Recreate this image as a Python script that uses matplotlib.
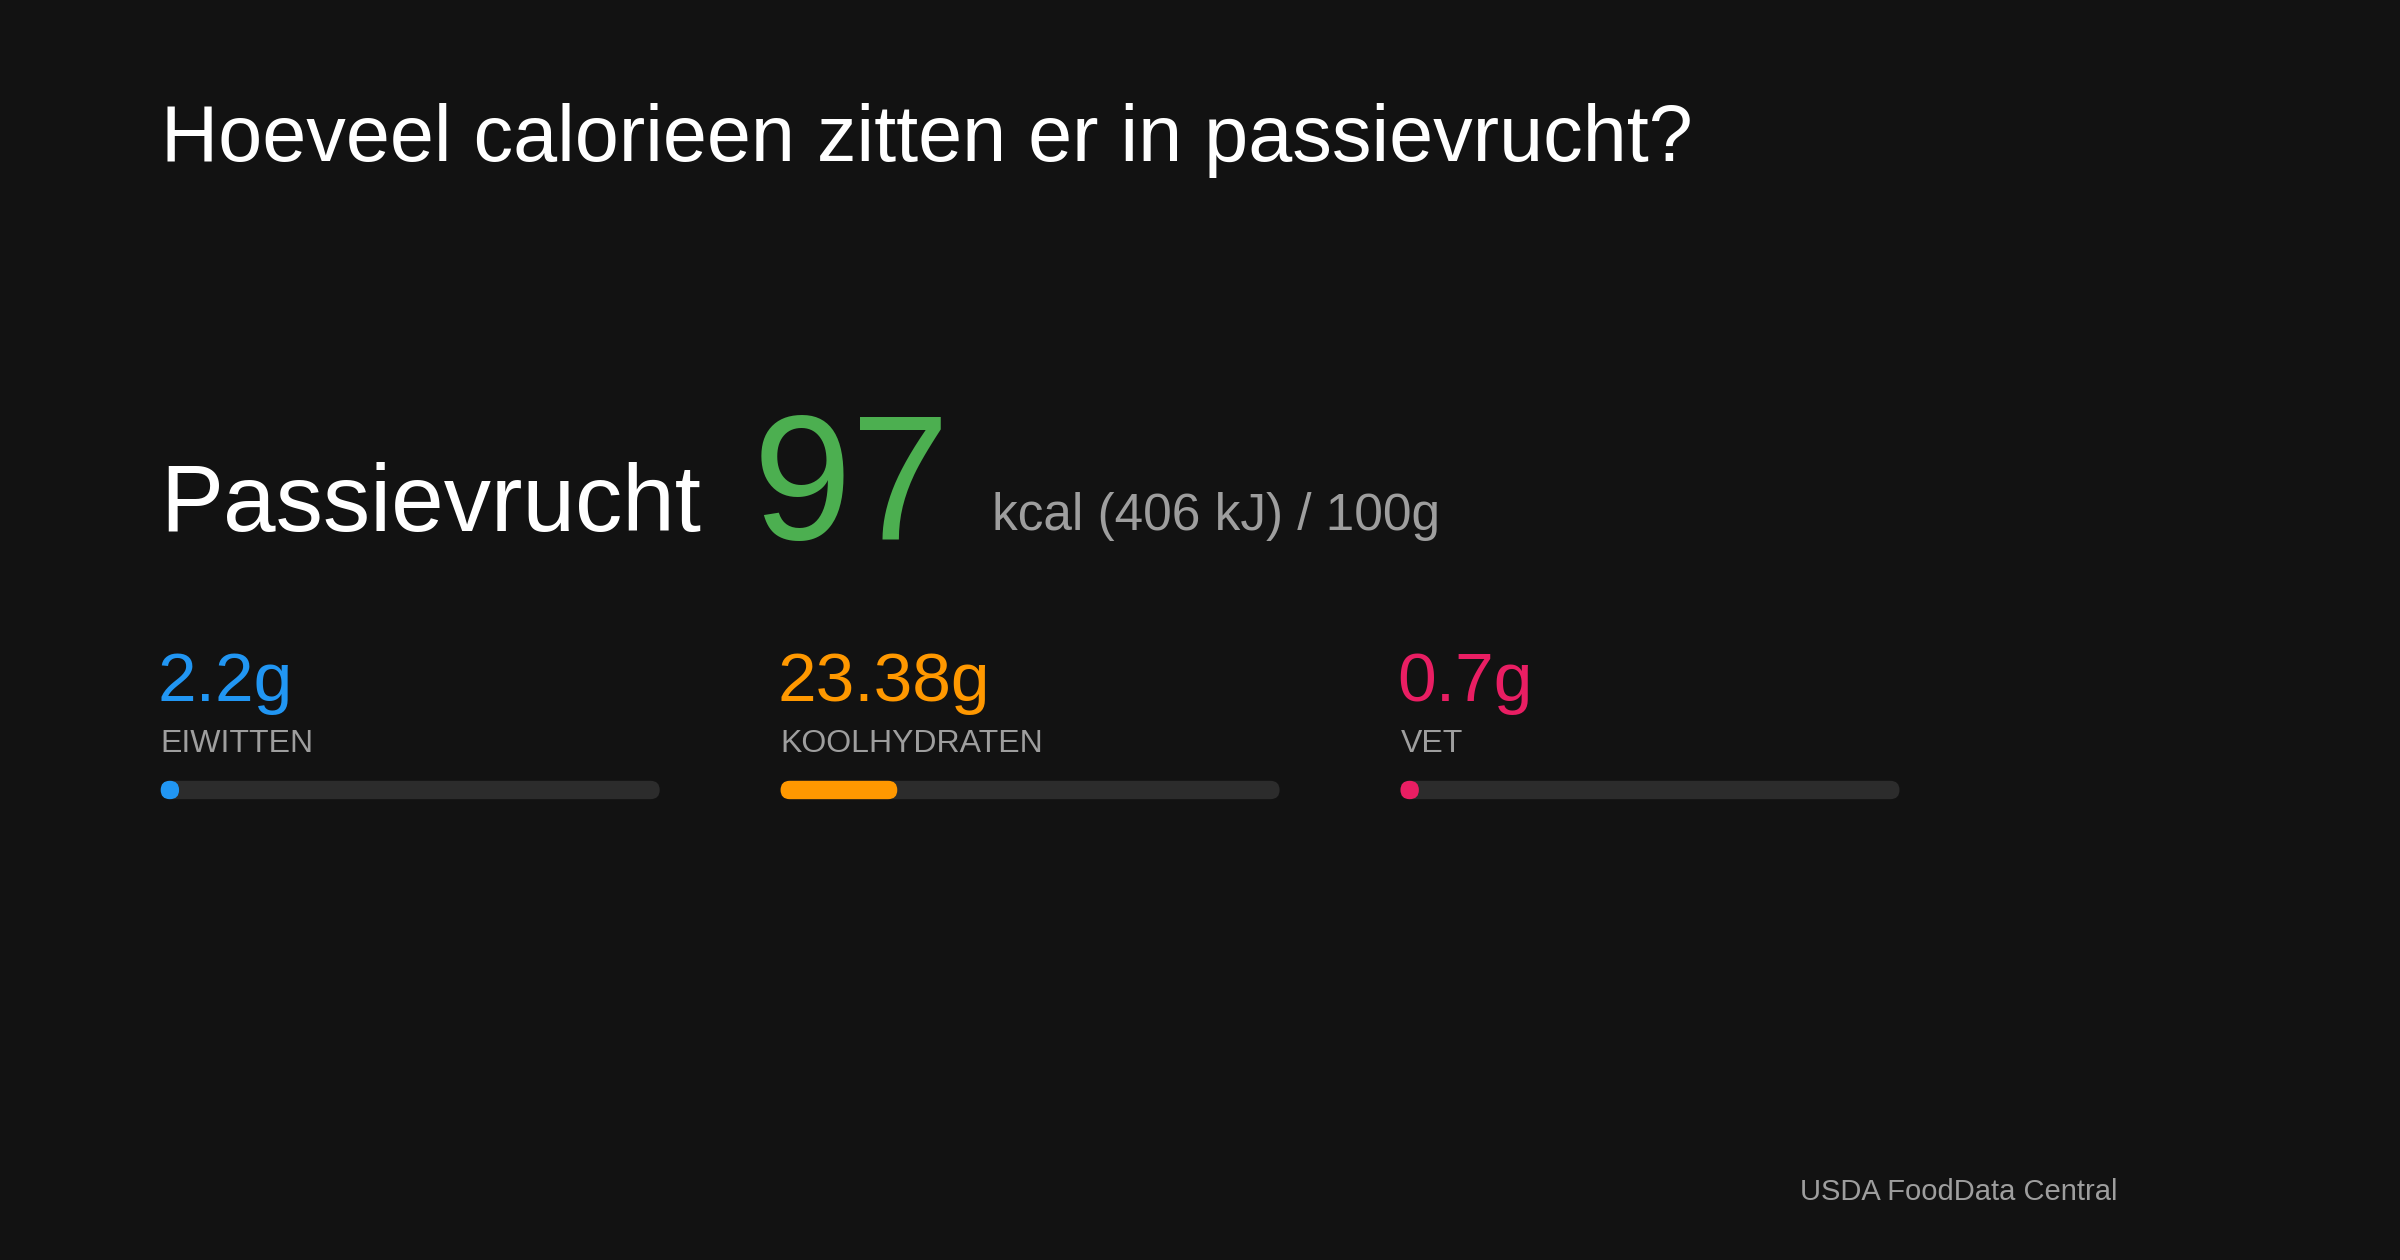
import matplotlib.pyplot as plt
from matplotlib.patches import FancyBboxPatch

plt.rcParams['font.family'] = ['Liberation Sans', 'DejaVu Sans']

title = "Hoeveel calorieen zitten er in passievrucht?"
food = "Passievrucht"
kcal = 97
kj = 406
macro_names = ["EIWITTEN", "KOOLHYDRATEN", "VET"]
macro_values = [2.2, 23.38, 0.7]
macro_labels = ["2.2g", "23.38g", "0.7g"]
macro_colors = ["#2196F3", "#FF9800", "#E91E63"]
source = "USDA FoodData Central"

BG = "#121212"
GRAY = "#9E9E9E"

# work in pixel units of an 1568x823 layout
W, H = 1568, 823
fig = plt.figure(figsize=(24, 12.6), dpi=100, facecolor=BG)
ax = fig.add_axes([0, 0, 1, 1])
ax.set_xlim(0, W)
ax.set_ylim(H, 0)
ax.axis('off')
ax.set_facecolor(BG)

ax.text(105, 105, title, color="white", fontsize=57, va='baseline')
ax.text(105, 347, food, color="white", fontsize=68, va='baseline')
ax.text(492, 352, str(kcal), color="#4CAF50", fontsize=128, va='baseline')
ax.text(648, 346, f"kcal ({kj} kJ) / 100g", color=GRAY, fontsize=37, va='baseline')

bar_w, bar_h = 326, 12
for i, (name, val, lab, col) in enumerate(zip(macro_names, macro_values, macro_labels, macro_colors)):
    x0 = 105 + i * 405
    ax.text(x0 - 2, 458, lab, color=col, fontsize=50, va='baseline')
    ax.text(x0, 491, name, color=GRAY, fontsize=23, va='baseline')
    ax.add_patch(FancyBboxPatch((x0, 510), bar_w, bar_h,
                                boxstyle=f"round,pad=0,rounding_size={bar_h/2}",
                                fc="#2c2c2c", ec="none"))
    fw = max(bar_w * val / 100, bar_h)
    ax.add_patch(FancyBboxPatch((x0, 510), fw, bar_h,
                                boxstyle=f"round,pad=0,rounding_size={bar_h/2}",
                                fc=col, ec="none"))

ax.text(1176, 784, source, color=GRAY, fontsize=21, va='baseline')

fig.savefig("out.png", dpi=100, facecolor=BG)
